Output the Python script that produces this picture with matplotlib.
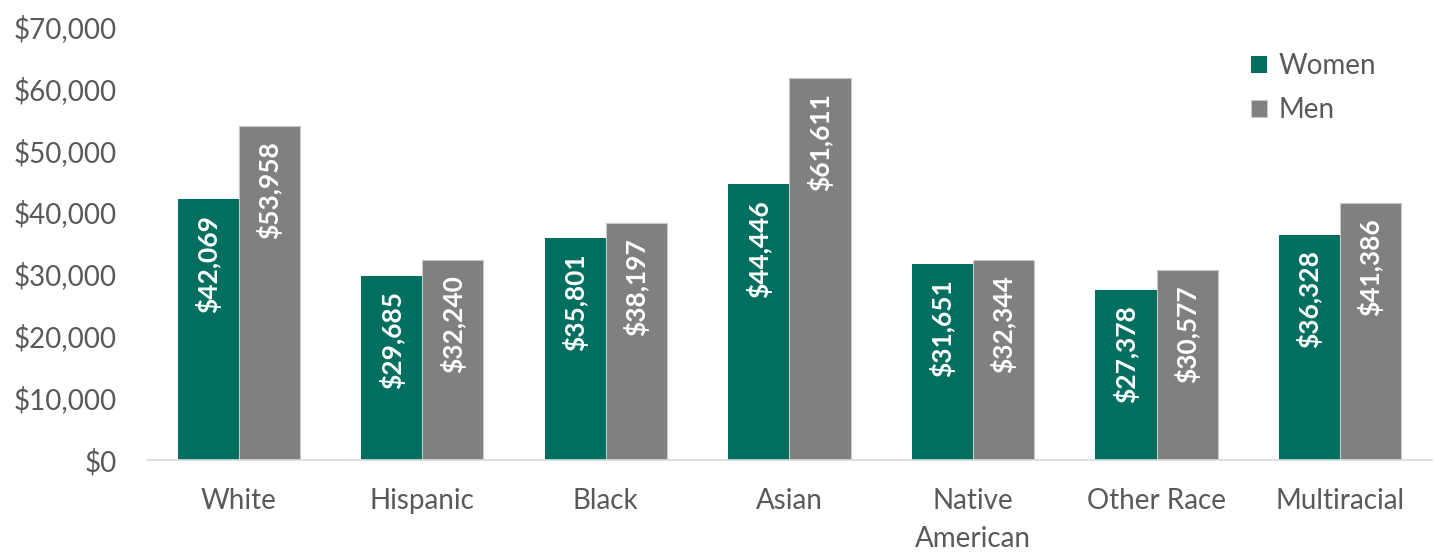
import matplotlib
import matplotlib.pyplot as plt
import numpy as np
from matplotlib.ticker import FuncFormatter

matplotlib.use('Agg')

categories = ['White', 'Hispanic', 'Black', 'Asian', 'Native\nAmerican', 'Other Race', 'Multiracial']
women = [42069, 29685, 35801, 44446, 31651, 27378, 36328]
men = [53958, 32240, 38197, 61611, 32344, 30577, 41386]

plt.rcParams['font.family'] = ['Lato', 'DejaVu Sans']

fig = plt.figure(figsize=(14.34, 5.52), dpi=100)
ax = fig.add_axes([0.1025, 0.1667, 0.896, 0.786])

x = np.arange(len(categories))
w = 0.333
b1 = ax.bar(x - w / 2, women, w, color='#006F5F', label='Women', zorder=2)
b2 = ax.bar(x + w / 2, men, w, color='#808080', edgecolor='#C8C8C8', linewidth=0.8, label='Men', zorder=2)

for bars in (b1, b2):
    for bar in bars:
        val = bar.get_height()
        ax.annotate(f'${val:,.0f}', (bar.get_x() + bar.get_width() / 2, val),
                    xytext=(0, -11), textcoords='offset points', rotation=90,
                    ha='center', va='top', color='white', fontsize=19, fontweight='bold')

ax.set_xlim(-0.5, len(categories) - 0.5)
ax.set_ylim(0, 70000)
ax.set_yticks(range(0, 70001, 10000))
ax.yaxis.set_major_formatter(FuncFormatter(lambda v, p: f'${v:,.0f}'))
ax.set_xticks(x)
ax.set_xticklabels(categories, linespacing=1.6)
ax.tick_params(axis='both', length=0, labelsize=20, labelcolor='#595959')
ax.tick_params(axis='x', pad=20)
ax.tick_params(axis='y', pad=22)

for s in ['top', 'right', 'left']:
    ax.spines[s].set_visible(False)
ax.spines['bottom'].set_color('#D9D9D9')
ax.spines['bottom'].set_linewidth(1.2)

ax.legend(loc='upper right', bbox_to_anchor=(0.976, 0.995), frameon=False, fontsize=20,
          labelcolor='#595959', handlelength=0.6, handleheight=0.6, handletextpad=0.4,
          labelspacing=0.65)

plt.savefig('out.png', dpi=100)
plt.close()
